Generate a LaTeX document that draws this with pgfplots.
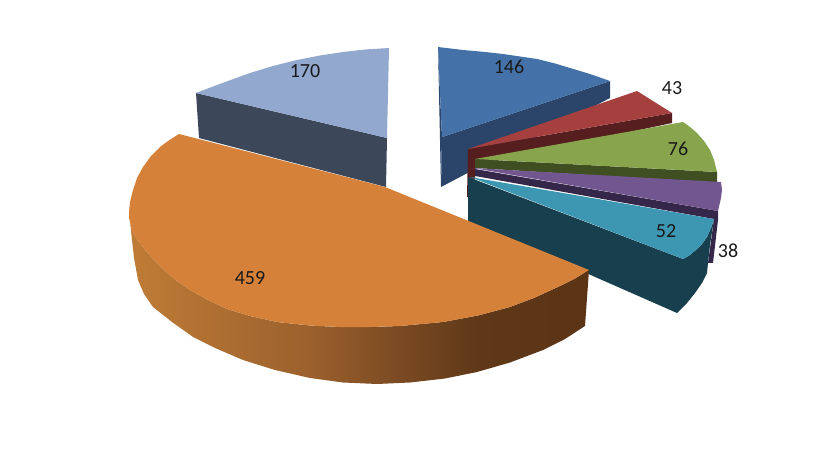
\documentclass[border=0pt]{standalone}
\usepackage{pgfplots}
\pgfplotsset{compat=1.18}
\usepackage{fontspec}
\setmainfont{Carlito}

\definecolor{bluetop}{HTML}{4472A8}
\definecolor{blueside}{HTML}{2A4569}
\definecolor{redtop}{HTML}{A5403E}
\definecolor{redside}{HTML}{561E1E}
\definecolor{greentop}{HTML}{88A54E}
\definecolor{greenside}{HTML}{3F4F22}
\definecolor{purptop}{HTML}{71568F}
\definecolor{purpside}{HTML}{35274A}
\definecolor{tealtop}{HTML}{3E97B2}
\definecolor{tealside}{HTML}{173F4D}
\definecolor{orangetop}{HTML}{D6813A}
\definecolor{lighttop}{HTML}{92A8CF}
\definecolor{lightside}{HTML}{3C4759}
\definecolor{os0}{HTML}{C07C36}
\definecolor{os1}{HTML}{9A602D}
\definecolor{os2}{HTML}{7A4A22}
\definecolor{os3}{HTML}{5F3818}
\definecolor{os4}{HTML}{5A3415}

% the path's box runs from 25bp to 75bp of the shading
\pgfdeclarehorizontalshading{orangeside}{100bp}{
  color(0bp)=(os0);
  color(25bp)=(os0);
  color(45bp)=(os1);
  color(54.5bp)=(os2);
  color(63bp)=(os3);
  color(75bp)=(os4);
  color(100bp)=(os4)}

\begin{document}
\begin{tikzpicture}
\begin{axis}[
    scale only axis, width=840pt, height=454pt,
    xmin=0, xmax=840, ymin=0, ymax=454, y dir=reverse,
    hide axis, clip=false,
    nodes={font=\fontsize{20}{24}\selectfont, text=black!90}
  ]
  % keeps the page at the full canvas
  \addplot[draw=none] coordinates {(0,0) (840,454)};
  % 146
  \addplot[fill=blueside, draw=none] coordinates {(442,137) (610,81) (610,98) (441,187)};
  \addplot[fill=blueside, draw=none] coordinates {(438,47) (442,137) (441,187) (440,140)};
  \addplot[fill=bluetop, draw=none] coordinates {(438,47) (463,50) (485,52) (503,54) (520,56.5) (537,59) (555,63.5) (570,68) (590,74) (610,81) (442,137)};
  % 43
  \addplot[fill=redside, draw=none] coordinates {(468,149) (672,113) (672,123) (475,165) (475,197) (467,197)};
  \addplot[fill=redtop, draw=none] coordinates {(468,149) (637,91) (672,113)};
  % 76
  \addplot[fill=greenside, draw=none] coordinates {(475,159) (717,172) (717,183) (475,168)};
  \addplot[fill=greentop, draw=none] coordinates {(475,159) (683,122) (690,127) (697,133) (704,141) (710,150) (714,160) (717,172)};
  % 38
  \addplot[fill=purpside, draw=none] coordinates {(475,169) (718,211) (718,220) (713,263) (708,263) (714,219) (475,176)};
  \addplot[fill=purptop, draw=none] coordinates {(473,168) (721,182) (722,190) (721,198) (718,211)};
  % 52
  \addplot[fill=tealside, draw=none] coordinates {(468,177) (683,259) (690,255) (697,249) (702,244) (707,237) (711,228) (714,219) (710,245) (708,263) (707,273) (702,283) (695,293) (687,303) (677,313) (468,221)};
  \addplot[fill=tealtop, draw=none] coordinates {(470,177) (714,219) (711,228) (707,237) (702,244) (697,249) (690,255) (683,259)};
  % 170
  \addplot[fill=lightside, draw=none] coordinates {(196,93) (387,138) (386,187) (199,138)};
  \addplot[fill=lighttop, draw=none] coordinates {(389,48) (365,49.5) (343,52) (320,55.5) (297,60) (273,66) (250,73) (232,79.5) (217,85) (196,93) (387,138)};
  % 459
  \addplot[shading=orangeside, draw=none] coordinates {(129,212) (130,222) (132,230) (138,241) (146,251) (155,261) (165,271) (177,281) (190,290) (208,300) (227,309) (250,316) (277,322) (310,325.5) (340,327) (370,327) (400,326) (443,322) (478,315.5) (510,307) (535,297.5) (560,286) (575,278.5) (589,270) (585,326) (565,339) (543,350) (510,362.5) (477,372) (445,378.5) (410,382.5) (377,384) (343,382.5) (310,378) (275,370) (243,360) (215,348) (193,337) (172,322) (153,307) (144,294) (138,280) (134,258) (132,240)};
  \addplot[fill=orangetop, draw=none] coordinates {(179,134) (385,187) (589,270) (575,278.5) (560,286) (535,297.5) (510,307) (478,315.5) (443,322) (400,326) (370,327) (340,327) (310,325.5) (277,322) (250,316) (227,309) (208,300) (190,290) (177,281) (165,271) (155,261) (146,251) (138,241) (132,230) (130,222) (129,212) (130,202) (133,190) (137,178) (143,167) (151,156) (160,147) (168,141)};
  % value labels
  \node at (axis cs:509,67) {146};
  \node at (axis cs:672,88) {43};
  \node at (axis cs:678,149) {76};
  \node at (axis cs:666,231) {52};
  \node at (axis cs:728,251) {38};
  \node at (axis cs:250,278) {459};
  \node at (axis cs:305,71) {170};
\end{axis}
\end{tikzpicture}
\end{document}
